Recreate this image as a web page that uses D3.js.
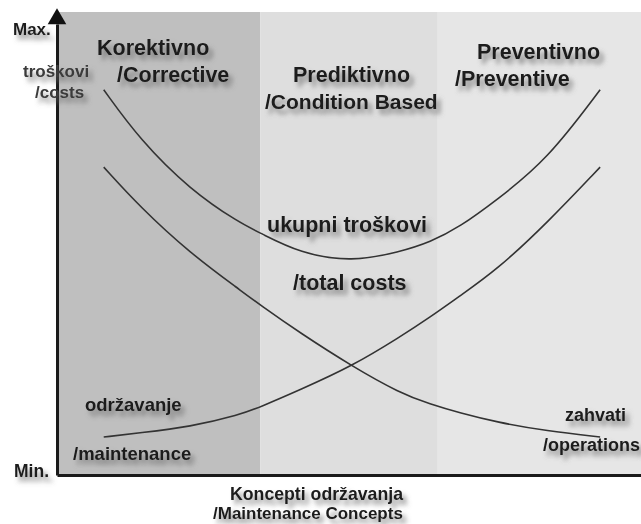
<!DOCTYPE html>
<html>
<head>
<meta charset="utf-8">
<script src="https://cdn.jsdelivr.net/npm/d3@7"></script>
<style>
  body { margin: 0; background: #fff; }
  text { font-family: "Liberation Sans", Arial, sans-serif; font-weight: bold; fill: #1a1a1a; }
</style>
</head>
<body>
<svg id="chart"></svg>
<script>
// concept axis positions (0 = left edge of plot, 100 = right edge)
const conceptX = [8, 14.2, 22.8, 31.3, 34.8, 41.6, 50.5, 58.7, 63.9, 69.0, 75.3, 83.9, 93.0];
// cost level (0 = Min., 100 = Max.)
const totalCosts       = [83.2, 72.4, 61.6, 54.4, 52.3, 47.9, 46.0, 48.2, 50.3, 53.6, 59.4, 68.0, 83.2];
const operationCosts   = [66.5, 57.9, 47.9, 40.0, 36.7, 30.7, 23.5, 17.7, 15.3, 13.4, 11.4, 9.5, 8.2];
const maintenanceCosts = [8.2, 9.1, 10.4, 13.0, 14.7, 18.4, 23.5, 29.8, 34.1, 38.7, 44.3, 54.4, 66.5];

// maintenance concept bands
const bandEdges  = [0, 34.8, 65.2, 100];
const bandColors = ["#bfbfbf", "#dedede", "#e6e6e6"];

const width = 641, height = 524;
const margin = { top: 12, right: 0, bottom: 49, left: 57 };

const svg = d3.select("#chart")
    .attr("width", width)
    .attr("height", height);

const defs = svg.append("defs");
const shadow = defs.append("filter").attr("id", "shadow")
    .attr("x", "-20%").attr("y", "-40%").attr("width", "150%").attr("height", "200%");
shadow.append("feDropShadow")
    .attr("dx", 4).attr("dy", 5).attr("stdDeviation", 2.8)
    .attr("flood-color", "#666").attr("flood-opacity", 0.75);

const x = d3.scaleLinear().domain([0, 100]).range([margin.left, width - margin.right]);
const y = d3.scaleLinear().domain([0, 100]).range([height - margin.bottom, margin.top]);

// background bands
svg.append("g").selectAll("rect")
    .data(bandColors)
    .enter()
    .append("rect")
    .attr("x", (d, i) => x(bandEdges[i]))
    .attr("width", (d, i) => x(bandEdges[i + 1]) - x(bandEdges[i]))
    .attr("y", y(100))
    .attr("height", y(0) - y(100))
    .attr("fill", d => d);

// curves
const line = d3.line()
    .x((d, i) => x(conceptX[i]))
    .y(d => y(d))
    .curve(d3.curveBasis);

svg.append("g").selectAll("path")
    .data([totalCosts, operationCosts, maintenanceCosts])
    .enter()
    .append("path")
    .attr("fill", "none")
    .attr("stroke", "#333")
    .attr("stroke-width", 1.6)
    .attr("d", line);

// axes (no ticks, just the lines)
svg.append("g")
    .attr("transform", `translate(0,${y(0)})`)
    .call(d3.axisBottom(x).tickValues([]).tickSizeOuter(0));
svg.append("g")
    .attr("transform", `translate(${x(0)},0)`)
    .call(d3.axisLeft(y.copy().range([y(0), y(100) + 12])).tickValues([]).tickSizeOuter(0));
svg.selectAll(".domain").attr("stroke", "#1a1a1a").attr("stroke-width", 3);

// arrow head on cost axis
svg.append("path")
    .attr("d", d3.symbol().type(d3.symbolTriangle).size(150))
    .attr("transform", `translate(${x(0)},${y(100) + 7})`)
    .attr("fill", "#111");

// labels
const labels = svg.append("g").attr("filter", "url(#shadow)");
function label(txt, px, py, size, color) {
    labels.append("text")
        .attr("x", px).attr("y", py)
        .attr("font-size", size)
        .style("fill", color || "#1a1a1a")
        .text(txt);
}

label("Max.", 13, 35, 17);
label("Min.", 14, 477, 17.5);
label("troškovi", 23, 77, 17, "#3a3a3a");
label("/costs", 35, 98, 17, "#3a3a3a");

label("Korektivno", 97, 55, 21.5);
label("/Corrective", 117, 82, 21.5);
label("Prediktivno", 293, 82, 21.5);
label("/Condition Based", 265, 109, 21);
label("Preventivno", 477, 59, 21.5);
label("/Preventive", 455, 86, 21.5);

label("ukupni troškovi", 267, 232, 21.5);
label("/total costs", 293, 290, 21.5);

label("održavanje", 85, 411, 18.5);
label("/maintenance", 73, 460, 18.5);
label("zahvati", 565, 421, 18);
label("/operations", 543, 451, 18);

label("Koncepti održavanja", 230, 500, 17.7);
label("/Maintenance Concepts", 213, 519, 17);
</script>
</body>
</html>
